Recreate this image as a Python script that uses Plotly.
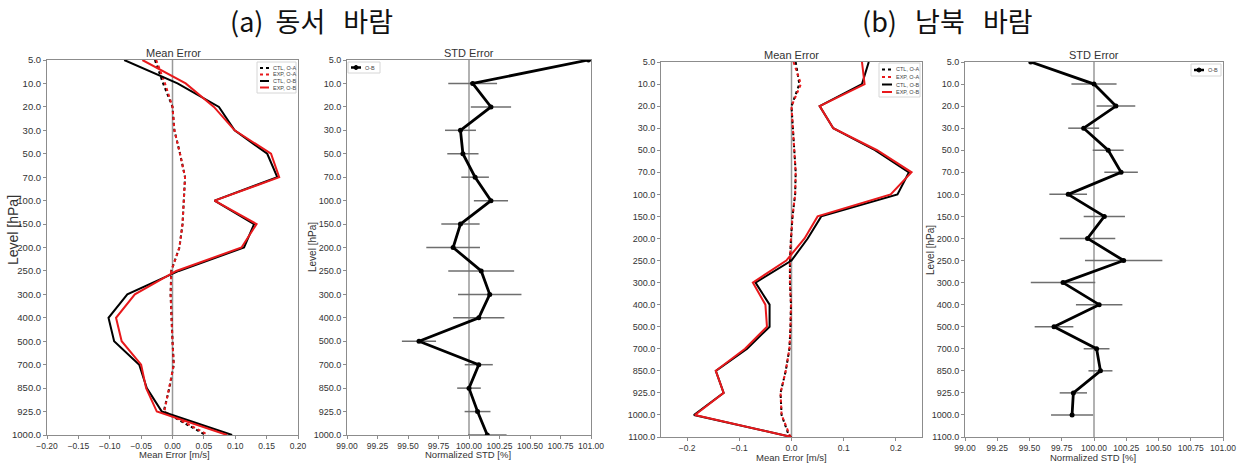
import plotly.graph_objects as go

# ---------------- data ----------------
levels_a = ["5.0", "10.0", "20.0", "30.0", "50.0", "70.0", "100.0", "150.0", "200.0",
            "250.0", "300.0", "400.0", "500.0", "700.0", "850.0", "925.0", "1000.0"]
levels_b = levels_a + ["1100.0"]

series_names = ["CTL, O-A", "EXP, O-A", "CTL, O-B", "EXP, O-B"]
std_name = "O-B"

# (a) zonal wind - mean error
a_ctl_oa = [-0.028, -0.015, 0.000, 0.003, 0.012, 0.020, 0.018, 0.016, 0.011,
            -0.002, -0.003, -0.002, 0.000, 0.002, -0.005, -0.014, 0.053]
a_exp_oa = [-0.026, -0.012, 0.000, 0.003, 0.012, 0.020, 0.018, 0.016, 0.011,
            -0.002, -0.003, -0.002, 0.000, 0.002, -0.005, -0.013, 0.057]
a_ctl_ob = [-0.077, 0.008, 0.074, 0.099, 0.151, 0.167, 0.067, 0.130, 0.114,
            0.010, -0.072, -0.102, -0.093, -0.053, -0.041, -0.017, 0.095]
a_exp_ob = [-0.048, 0.021, 0.066, 0.099, 0.157, 0.170, 0.067, 0.134, 0.110,
            0.006, -0.060, -0.090, -0.081, -0.050, -0.042, -0.025, 0.087]

# (a) zonal wind - normalized STD
a_std = [100.98, 100.03, 100.18, 99.93, 99.95, 100.05, 100.18, 99.93, 99.87,
         100.10, 100.17, 100.08, 99.59, 100.08, 100.00, 100.07, 100.15]
a_std_err = [0.0, 0.20, 0.165, 0.127, 0.128, 0.113, 0.14, 0.157, 0.22,
             0.27, 0.26, 0.21, 0.14, 0.115, 0.097, 0.106, 0.158]

# (b) meridional wind - mean error
b_ctl_oa = [0.008, 0.015, 0.000, 0.003, 0.006, 0.008, 0.007, 0.002, -0.001,
            -0.003, -0.003, -0.001, -0.002, -0.004, -0.011, -0.021, -0.019, -0.004]
b_exp_oa = [0.004, 0.018, 0.000, 0.003, 0.006, 0.008, 0.007, 0.002, -0.001,
            -0.003, -0.003, -0.001, -0.002, -0.004, -0.011, -0.021, -0.019, -0.002]
b_ctl_ob = [0.148, 0.135, 0.054, 0.080, 0.160, 0.225, 0.203, 0.057, 0.031,
            0.000, -0.069, -0.042, -0.042, -0.085, -0.145, -0.130, -0.187, 0.000]
b_exp_ob = [0.135, 0.140, 0.054, 0.080, 0.164, 0.230, 0.190, 0.050, 0.025,
            -0.010, -0.074, -0.050, -0.047, -0.089, -0.145, -0.130, -0.185, 0.000]

# (b) meridional wind - normalized STD
b_std = [99.51, 100.00, 100.17, 99.92, 100.11, 100.21, 99.80, 100.08, 99.95,
         100.23, 99.76, 100.04, 99.69, 100.02, 100.05, 99.84, 99.83, None]
b_std_err = [0.0, 0.175, 0.15, 0.12, 0.12, 0.13, 0.146, 0.16, 0.215,
             0.30, 0.25, 0.18, 0.15, 0.10, 0.093, 0.106, 0.163, 0.0]

mean_ticks_a = [-0.20, -0.15, -0.10, -0.05, 0.00, 0.05, 0.10, 0.15, 0.20]
mean_ticks_b = [-0.2, -0.1, 0.0, 0.1, 0.2]
std_ticks = [99.00, 99.25, 99.50, 99.75, 100.00, 100.25, 100.50, 100.75, 101.00]

# ---------------- figure ----------------
W, H = 1242, 464
FONT = "Liberation Sans, Arial, sans-serif"
TXT = "#333333"
FRAME = "#8c8c8c"
RED = "#e8191c"
series_colors = ["black", RED, "black", RED]
series_dash = ["dot", "dot", "solid", "solid"]


def px(x):
    return x / W


def py(y):
    return 1 - y / H


fig = go.Figure()

for vals, nm, col, dsh in zip([a_ctl_oa, a_exp_oa, a_ctl_ob, a_exp_ob], series_names,
                              series_colors, series_dash):
    fig.add_trace(go.Scatter(x=vals, y=levels_a, mode="lines", name=nm,
                             line=dict(color=col, width=2, dash=dsh),
                             xaxis="x", yaxis="y", showlegend=False))

fig.add_trace(go.Scatter(x=a_std, y=levels_a, mode="lines+markers", name=std_name,
                         line=dict(color="black", width=2.8),
                         marker=dict(color="black", size=5),
                         error_x=dict(type="data", array=a_std_err, color="#6e6e6e",
                                      thickness=1.5, width=0),
                         xaxis="x2", yaxis="y2", showlegend=False))

for vals, nm, col, dsh in zip([b_ctl_oa, b_exp_oa, b_ctl_ob, b_exp_ob], series_names,
                              series_colors, series_dash):
    fig.add_trace(go.Scatter(x=vals, y=levels_b, mode="lines", name=nm,
                             line=dict(color=col, width=2, dash=dsh),
                             xaxis="x3", yaxis="y3", showlegend=False))

fig.add_trace(go.Scatter(x=b_std, y=levels_b, mode="lines+markers", name=std_name,
                         line=dict(color="black", width=2.8),
                         marker=dict(color="black", size=5),
                         error_x=dict(type="data", array=b_std_err, color="#6e6e6e",
                                      thickness=1.5, width=0),
                         xaxis="x4", yaxis="y4", showlegend=False))

xtickfont = dict(family=FONT, size=8.5, color=TXT)


def xax(dom, anchor, rng, ticks, fmt):
    return dict(domain=dom, anchor=anchor, range=rng, tickvals=ticks, tickformat=fmt,
                showgrid=False, zeroline=False, showline=True, mirror=True,
                linecolor=FRAME, linewidth=1, ticks="outside", ticklen=3,
                tickcolor=FRAME, tickfont=xtickfont, tickangle=0, automargin=False)


def yax(dom, anchor, cats, size=9):
    return dict(domain=dom, anchor=anchor, type="category", categoryorder="array",
                categoryarray=cats, range=[len(cats) - 1, 0],
                showgrid=False, zeroline=False, showline=True, mirror=True,
                linecolor=FRAME, linewidth=1, ticks="outside", ticklen=3,
                tickcolor=FRAME, tickfont=dict(family=FONT, size=size, color=TXT),
                automargin=False)


ya = [py(435), py(60)]
yb = [py(437), py(62)]

fig.update_layout(
    width=W, height=H,
    margin=dict(l=0, r=0, t=0, b=0),
    paper_bgcolor="white", plot_bgcolor="white",
    font=dict(family=FONT, color=TXT),
    showlegend=False,
    xaxis=xax([px(47), px(298)], "y", [-0.20, 0.20], mean_ticks_a, ".2f"),
    yaxis=yax(ya, "x", levels_a, 9.5),
    xaxis2=xax([px(347), px(591)], "y2", [99, 101], std_ticks, ".2f"),
    yaxis2=yax(ya, "x2", levels_a),
    xaxis3=xax([px(661), px(922)], "y3", [-0.25, 0.25], mean_ticks_b, ".1f"),
    yaxis3=yax(yb, "x3", levels_b),
    xaxis4=xax([px(965), px(1223)], "y4", [99, 101], std_ticks, ".2f"),
    yaxis4=yax(yb, "x4", levels_b),
)

shapes = []
# reference lines at 0 and 100
for xr, yr, v in [("x", "y", 0), ("x2", "y2", 100), ("x3", "y3", 0), ("x4", "y4", 100)]:
    shapes.append(dict(type="line", xref=xr, yref=yr + " domain", x0=v, x1=v, y0=0, y1=1,
                       line=dict(color="#999999", width=1.5), layer="below"))

ann = []


def text(x, y, s, size, angle=0, family=FONT, color=TXT, anchor="center"):
    ann.append(dict(x=px(x), y=py(y), xref="paper", yref="paper", text=s, showarrow=False,
                    xanchor=anchor, yanchor="middle", textangle=angle,
                    font=dict(family=family, size=size, color=color)))


# ---- compact matplotlib-style legends (legend keys only) ----
def legend_box(x0, y0, x1, y1):
    shapes.append(dict(type="rect", xref="paper", yref="paper",
                       x0=px(x0), x1=px(x1), y0=py(y1), y1=py(y0),
                       line=dict(color="#d6d6d6", width=1), fillcolor="white",
                       layer="above"))


def legend_key(x0, x1, y, color, dash, width=2, marker=False):
    shapes.append(dict(type="line", xref="paper", yref="paper",
                       x0=px(x0), x1=px(x1), y0=py(y), y1=py(y),
                       line=dict(color=color, width=width, dash=dash), layer="above"))
    if marker:
        xm = (x0 + x1) / 2
        shapes.append(dict(type="circle", xref="paper", yref="paper",
                           x0=px(xm - 2), x1=px(xm + 2), y0=py(y + 2), y1=py(y - 2),
                           line=dict(color="black", width=1), fillcolor="black",
                           layer="above"))


def mean_legend(bx0, by0, bx1, by1, ys, kx0, kx1, tx):
    legend_box(bx0, by0, bx1, by1)
    for yy, nm, col, dsh in zip(ys, series_names, series_colors, series_dash):
        legend_key(kx0, kx1, yy, col, dsh)
        text(tx, yy, nm, 5.5, anchor="left", color="#444444")


mean_legend(257, 62, 296, 93, [68, 74.5, 81, 87.5], 260, 269, 271)
mean_legend(879, 63, 920, 97, [69.5, 77, 84.5, 92], 882, 892, 894)

legend_box(348, 62, 380, 73)
legend_key(351, 361, 67.5, "black", "solid", 2.5, marker=True)
text(363, 67.5, std_name, 5.5, anchor="left", color="#444444")

legend_box(1191, 64, 1221, 76)
legend_key(1194, 1204, 70, "black", "solid", 2.5, marker=True)
text(1206, 70, std_name, 5.5, anchor="left", color="#444444")

fig.update_layout(shapes=shapes)

KFONT = "Noto Sans CJK KR, Noto Sans, sans-serif"
NB = "\u00a0"
text(311, 21, "(a)" + NB * 2 + "동서" + NB * 3 + "바람", 27, family=KFONT, color="#111111")
text(947, 21, "(b)" + NB * 3 + "남북" + NB * 3 + "바람", 27, family=KFONT, color="#111111")

text(173, 53, "Mean Error", 11)
text(469, 53, "STD Error", 11)
text(792, 55, "Mean Error", 11)
text(1094, 55, "STD Error", 11)

text(175, 454, "Mean Error [m/s]", 9.5)
text(468, 454, "Normalized STD [%]", 9.5)
text(792, 457, "Mean Error [m/s]", 9.5)
text(1093, 457, "Normalized STD [%]", 9.5)

text(13, 230, "Level [hPa]", 14, angle=-90)
text(312, 247, "Level [hPa]", 10, angle=-90)
text(930, 250, "Level [hPa]", 10, angle=-90)

fig.update_layout(annotations=ann)

fig.write_html("out.html",
               config={"displayModeBar": False},
               post_script=["document.body.style.margin='0px';"
                            "document.body.style.padding='0px';"
                            "document.body.style.overflow='hidden';"])
